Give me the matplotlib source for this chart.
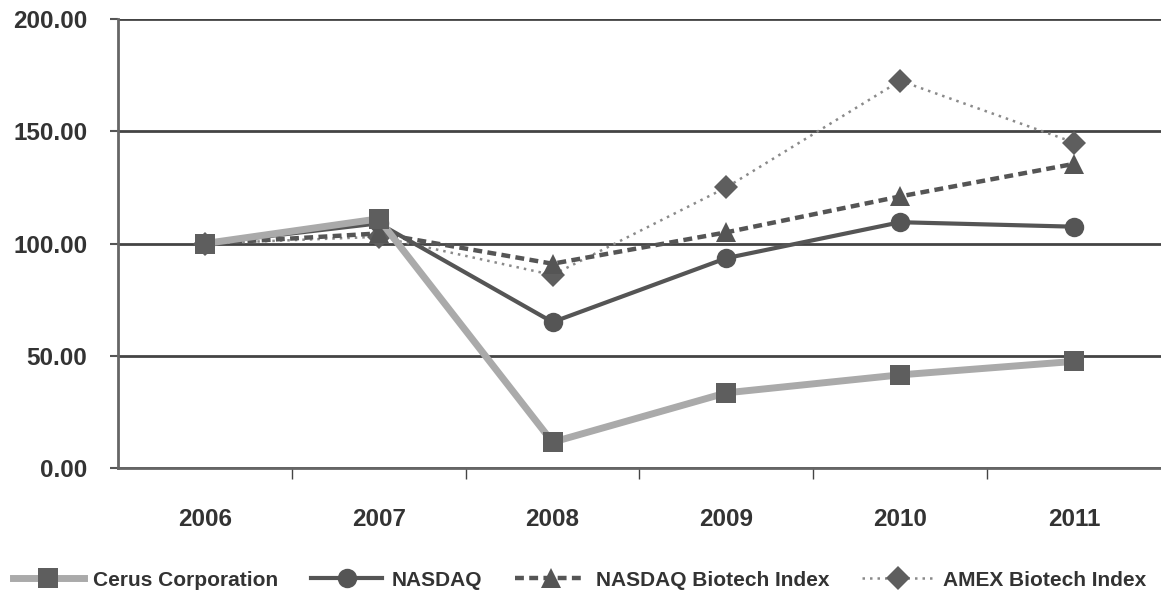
import matplotlib.pyplot as plt
from matplotlib.lines import Line2D

# data
years = ['2006', '2007', '2008', '2009', '2010', '2011']
cerus = [100.0, 111.0, 11.5, 33.5, 41.5, 47.5]
nasdaq = [100.0, 109.0, 65.0, 93.5, 109.5, 107.5]
nasdaq_biotech = [100.0, 104.5, 91.0, 105.0, 121.0, 135.5]
amex_biotech = [100.0, 103.0, 86.0, 125.0, 172.5, 145.0]

plt.rcParams['font.family'] = ['Liberation Sans', 'DejaVu Sans']
plt.rcParams['font.weight'] = 'bold'

fig = plt.figure(figsize=(11.61, 5.95), dpi=100)
ax = fig.add_axes([0.1016, 0.2134, 0.8984, 0.7546])

x = list(range(len(years)))
mk = dict(markersize=14, markeredgewidth=0)
mk_d = dict(markersize=12, markeredgewidth=0)

ax.plot(x, amex_biotech, color='#8a8a8a', lw=1.8, ls=(0, (1, 2)),
        marker='D', markerfacecolor='#5e5e5e', **mk_d, zorder=3)
ax.plot(x, nasdaq_biotech, color='#555555', lw=3.2, ls=(0, (2, 1.2)),
        marker='^', markerfacecolor='#555555', **mk, zorder=4)
ax.plot(x, nasdaq, color='#555555', lw=3.0, ls='-',
        marker='o', markerfacecolor='#555555', **mk, zorder=5)
ax.plot(x, cerus, color='#aaaaaa', lw=5.0, ls='-',
        marker='s', markerfacecolor='#5e5e5e', **mk, zorder=6)

ax.set_xlim(-0.5, 5.5)
ax.set_ylim(0, 200)
ax.set_yticks([0, 50, 100, 150, 200])
ax.set_yticklabels([f'{v:.2f}' for v in [0, 50, 100, 150, 200]])
ax.set_xticks([i + 0.5 for i in range(5)])
ax.set_xticklabels([])
ax.set_xticks(x, minor=True)
ax.set_xticklabels(years, minor=True)
ax.tick_params(axis='x', which='major', length=8, width=1, color='#444444', direction='out')
ax.tick_params(axis='x', which='minor', length=0, pad=29, labelsize=17.5, labelcolor='#333333')
ax.tick_params(axis='y', length=6, width=1.5, color='#555555', pad=16, labelsize=17.5,
               labelcolor='#333333')

ax.yaxis.grid(True, color='#444444', lw=2)
ax.set_axisbelow(True)
for side in ['top', 'right']:
    ax.spines[side].set_visible(False)
ax.spines['left'].set_color('#666666')
ax.spines['left'].set_linewidth(2)
ax.spines['bottom'].set_color('#666666')
ax.spines['bottom'].set_linewidth(2)

handles = [
    Line2D([], [], color='#aaaaaa', lw=5.0, marker='s', markerfacecolor='#5e5e5e', **mk),
    Line2D([], [], color='#555555', lw=3.0, marker='o', markerfacecolor='#555555', **mk),
    Line2D([], [], color='#555555', lw=3.2, ls=(0, (2, 1.2)), marker='^',
           markerfacecolor='#555555', **mk),
    Line2D([], [], color='#8a8a8a', lw=1.8, ls=(0, (1, 2)), marker='D',
           markerfacecolor='#5e5e5e', **mk_d),
]
labels = ['Cerus Corporation', 'NASDAQ', 'NASDAQ Biotech Index', 'AMEX Biotech Index']
leg = fig.legend(handles, labels, loc='center', bbox_to_anchor=(0.499, 0.025), ncol=4,
                 frameon=False, fontsize=15, handlelength=3.4, handletextpad=0.45,
                 columnspacing=1.6, labelcolor='#333333')

fig.savefig('out.png', dpi=100)
